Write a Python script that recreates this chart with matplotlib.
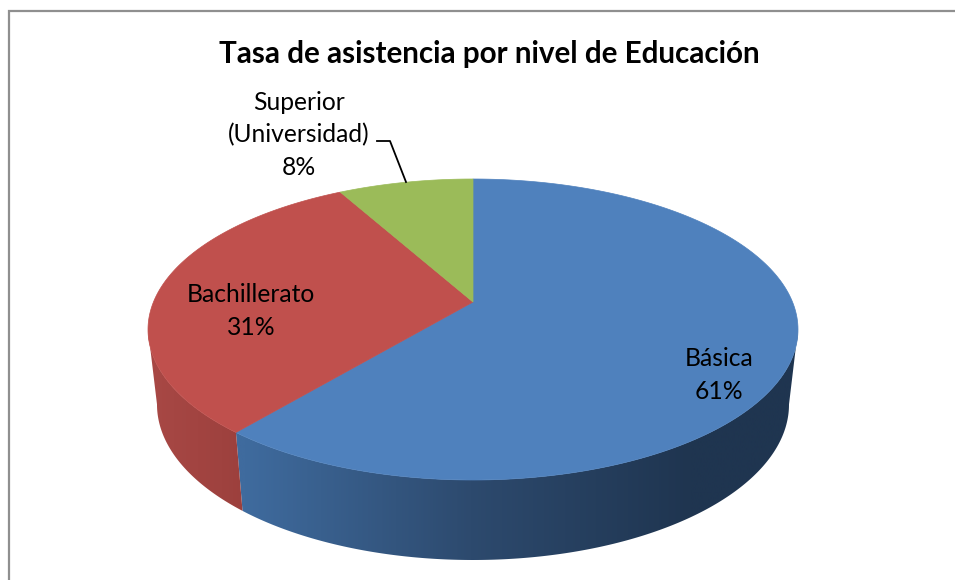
import numpy as np
import matplotlib
matplotlib.use('Agg')
import matplotlib.pyplot as plt
from matplotlib.colors import to_rgb
from matplotlib.patches import Polygon

categories = ['Básica', 'Bachillerato', 'Superior\n(Universidad)']
percent = [61, 31, 8]

top_colors = ['#4f81bd', '#c0504d', '#9bbb59']
side_stops = {
    0: [(245, '#3f6b9e'), (470, '#2d4a6e'), (690, '#1f3550'), (800, '#1f3550')],
    1: [(150, '#a84845'), (245, '#9c403d')],
}
label_pos = [(719, 375), (251, 311), (299, 135)]

plt.rcParams['font.family'] = ['Lato', 'DejaVu Sans']

# perspective of the pie disc, in pixels
cx, apex_y = 473, 302
ell_y, ell_ry, ell_rx = 330, 150, 325
bot_y, bot_ry, bot_rx = 405, 155, 316
c = 55 / 301
k = 178 * (1 - c)
kx = ell_rx * np.sqrt(1 - c ** 2)


def top_point(frac):
    # frac runs clockwise from the back of the pie
    a = 2 * np.pi * np.asarray(frac)
    u = -np.cos(a)
    d = 1 - c * u
    return cx + kx * np.sin(a) / d, apex_y + k * u / d


def bottom_point(frac):
    x, y = top_point(frac)
    return cx + (x - cx) * bot_rx / ell_rx, bot_y + (y - ell_y) * bot_ry / ell_ry


fig = plt.figure(figsize=(9.55, 5.8), dpi=100)
ax = fig.add_axes([0, 0, 1, 1])

# chart frame, only top and left show
ax.plot([9, 9, 955], [580, 11, 11], color='#8f8f8f', lw=1.6, solid_joinstyle='miter')

fracs = np.cumsum([0] + percent) / sum(percent)

# wall starts where the rim is widest, past that it would sweep back over itself
grid = np.linspace(0, 1, 2000)
rim_x = top_point(grid)[0]
wall_start, wall_end = grid[rim_x.argmax()], grid[rim_x.argmin()]

for i, stops in side_stops.items():
    ts = np.linspace(max(fracs[i], wall_start), min(fracs[i + 1], wall_end), 240)
    xt, yt = top_point(ts)
    xb, yb = bottom_point(ts)
    outline = list(zip(xt, yt)) + list(zip(xb[::-1], yb[::-1]))
    poly = Polygon(outline, closed=True, facecolor='none', edgecolor='none')
    ax.add_patch(poly)

    x0, x1 = min(xt.min(), xb.min()) - 2, max(xt.max(), xb.max()) + 2
    px = np.linspace(x0, x1, 400)
    sx = [s[0] for s in stops]
    rgb = np.array([to_rgb(s[1]) for s in stops])
    grad = np.stack([np.interp(px, sx, rgb[:, j]) for j in range(3)], axis=1)[None, :, :]
    im = ax.imshow(grad, extent=[x0, x1, 580, 150], aspect='auto', zorder=2,
                   interpolation='bilinear')
    im.set_clip_path(poly)

# top face
for i in range(len(percent)):
    ts = np.linspace(fracs[i], fracs[i + 1], 200)
    xs, ys = top_point(ts)
    pts = [(cx, apex_y)] + list(zip(xs, ys))
    ax.add_patch(Polygon(pts, closed=True, facecolor=top_colors[i],
                         edgecolor=top_colors[i], lw=0.5, zorder=3))

ax.set_xlim(0, 955)
ax.set_ylim(580, 0)
ax.axis('off')

ax.text(489, 54, 'Tasa de asistencia por nivel de Educación', ha='center', va='center',
        fontsize=21.3, fontweight='bold', color='black', zorder=5)

for name, val, (lx, ly) in zip(categories, percent, label_pos):
    ax.text(lx, ly, f'{name}\n{val}%', ha='center', va='center', fontsize=17.7,
            linespacing=1.5, color='black', zorder=5)

# leader line for the small slice
ax.plot([377, 390, 406], [141, 141, 182], color='black', lw=1.3, zorder=5)

fig.savefig('out.png', dpi=100)
